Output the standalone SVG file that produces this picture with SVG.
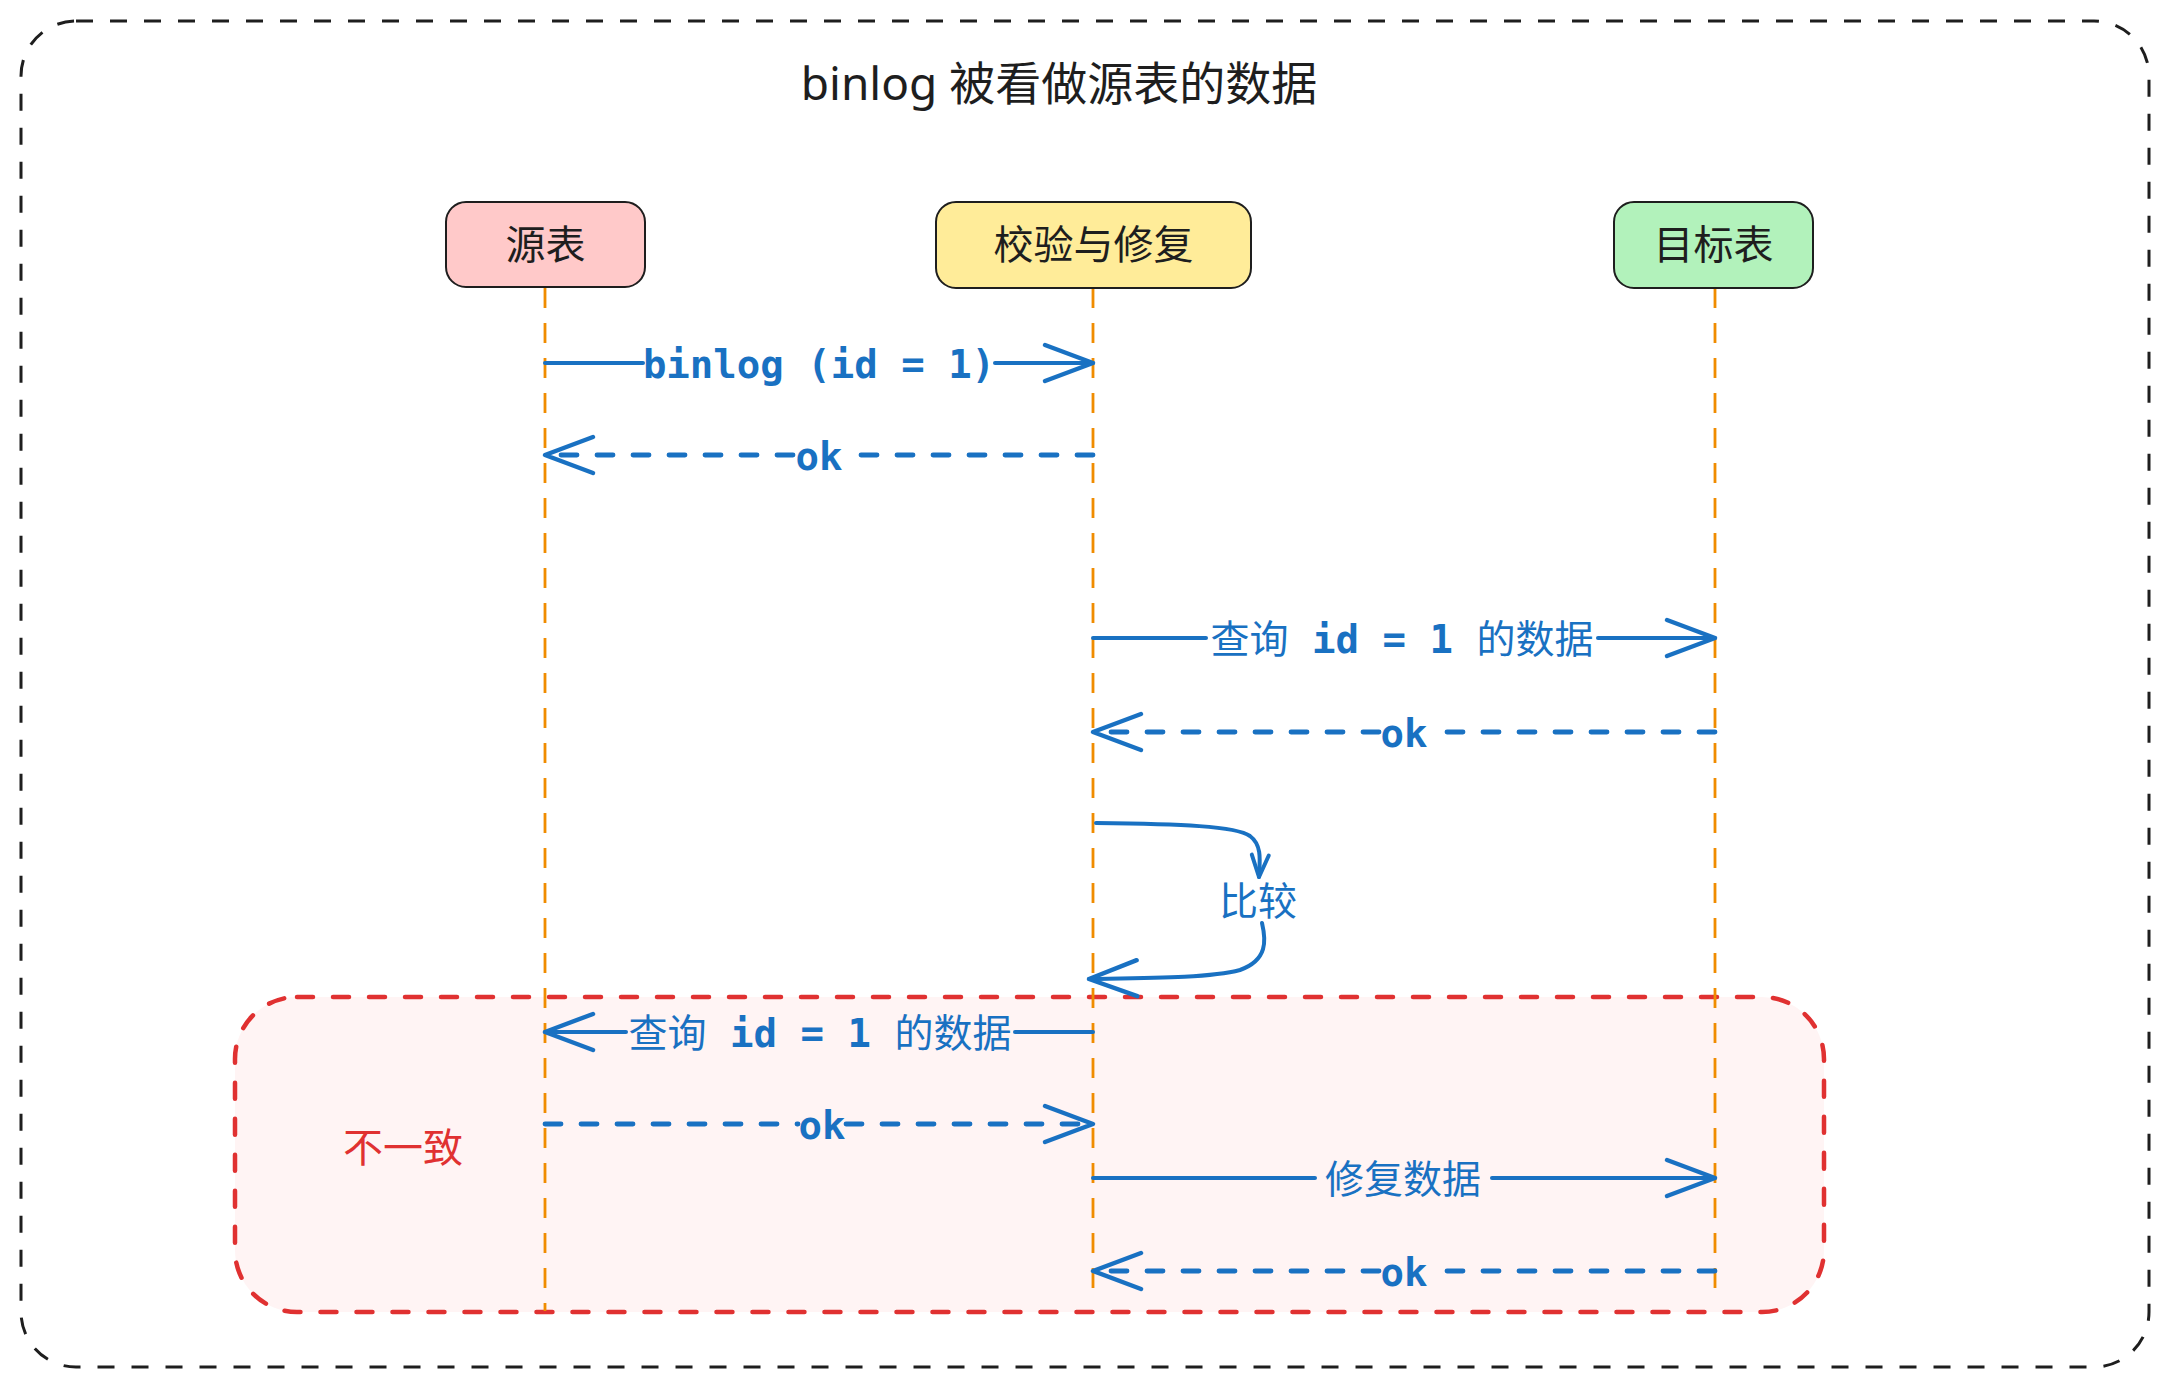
<svg xmlns="http://www.w3.org/2000/svg" width="2170" height="1385" viewBox="0 0 2170 1385">
<style>
.outer{fill:#ffffff;stroke:#1e1e1e;stroke-width:3;stroke-dasharray:17 17}
.title{font-family:"Noto Sans","Noto Sans CJK SC",sans-serif;font-size:46px;fill:#1e1e1e;text-anchor:middle}
.grp{fill:#fff4f4;stroke:#e03131;stroke-width:4.5;stroke-dasharray:16 20;stroke-linecap:round}
.grplbl{font-family:"Noto Sans CJK SC",sans-serif;font-size:40px;fill:#e03131;text-anchor:middle}
.life{stroke:#f08c00;stroke-width:2.8;stroke-dasharray:20 15;fill:none}
.box{stroke:#1e1e1e;stroke-width:2}
.nlbl{font-family:"Noto Sans CJK SC",sans-serif;font-size:40px;fill:#1e1e1e;text-anchor:middle}
.msg{stroke:#1971c2;stroke-width:4;fill:none;stroke-linecap:round}
.dash{stroke-dasharray:16 20;stroke-width:4.8}
.lbl{font-family:"DejaVu Sans Mono","Noto Sans CJK SC",monospace;font-size:39px;font-weight:bold;fill:#1971c2;text-anchor:middle}
.cj{font-family:"Noto Sans CJK SC",sans-serif;font-weight:normal}
</style>
<defs>
<marker id="ah" markerUnits="userSpaceOnUse" markerWidth="60" markerHeight="50" viewBox="-55 -25 60 50" refX="0" refY="0" orient="auto" overflow="visible">
<path d="M-48,-18 L0,0 L-48,18" fill="none" stroke="#1971c2" stroke-width="4.5" stroke-linecap="round" stroke-linejoin="round" stroke-dasharray="none"/>
</marker>
<marker id="ahs" markerUnits="userSpaceOnUse" markerWidth="30" markerHeight="24" viewBox="-28 -12 30 24" refX="0" refY="0" orient="auto" overflow="visible">
<path d="M-22,-8.5 L0,0 L-22,8.5" fill="none" stroke="#1971c2" stroke-width="4" stroke-linecap="round" stroke-linejoin="round" stroke-dasharray="none"/>
</marker>
</defs>

<rect class="outer" x="21" y="21" width="2128" height="1346" rx="55"/>
<text class="title" x="1059" y="100">binlog 被看做源表的数据</text>

<g id="group-inconsistent">
<rect class="grp" x="235" y="997" width="1589" height="315" rx="62"/>
<text class="grplbl" x="403" y="1162">不一致</text>
</g>

<g id="lifelines">
<line class="life" x1="545" y1="288" x2="545" y2="1311"/>
<line class="life" x1="1093" y1="288" x2="1093" y2="1290"/>
<line class="life" x1="1715" y1="288" x2="1715" y2="1290"/>
</g>

<g id="node-source">
<rect class="box" x="446" y="202" width="199" height="85" rx="20" fill="#ffc9c9"/>
<text class="nlbl" x="545.5" y="259">源表</text>
</g>
<g id="node-verify">
<rect class="box" x="936" y="202" width="315" height="86" rx="20" fill="#ffec99"/>
<text class="nlbl" x="1093.5" y="259">校验与修复</text>
</g>
<g id="node-target">
<rect class="box" x="1614" y="202" width="199" height="86" rx="20" fill="#b2f2bb"/>
<text class="nlbl" x="1713.5" y="259">目标表</text>
</g>

<g id="connectors">
<path class="msg" d="M545,363 L643,363"/>
<path class="msg" d="M995,363 L1093,363" marker-end="url(#ah)"/>
<text class="lbl" x="819" y="378">binlog (id = 1)</text>

<path class="msg dash" d="M1093,455 L845,455"/>
<path class="msg dash" d="M793,455 L545,455" marker-end="url(#ah)"/>
<text class="lbl" x="819" y="470">ok</text>

<path class="msg" d="M1093,638 L1206,638"/>
<path class="msg" d="M1598,638 L1715,638" marker-end="url(#ah)"/>
<text class="lbl" x="1402" y="653"><tspan class="cj">查询</tspan> id = 1 <tspan class="cj">的数据</tspan></text>

<path class="msg dash" d="M1715,732 L1428,732"/>
<path class="msg dash" d="M1379,732 L1093,732" marker-end="url(#ah)"/>
<text class="lbl" x="1404" y="747">ok</text>

<path class="msg" d="M1096,823 C1180,824 1236,826 1250,836 C1262,845 1260,860 1259,877" marker-end="url(#ahs)"/>
<path class="msg" d="M1262,923 C1266,940 1268,960 1240,970 C1210,978 1150,978 1089,979" marker-end="url(#ah)"/>
<text class="lbl" x="1258" y="915"><tspan class="cj">比较</tspan></text>

<path class="msg" d="M1093,1032 L1015,1032"/>
<path class="msg" d="M626,1032 L545,1032" marker-end="url(#ah)"/>
<text class="lbl" x="820" y="1047"><tspan class="cj">查询</tspan> id = 1 <tspan class="cj">的数据</tspan></text>

<path class="msg dash" d="M545,1124 L798,1124"/>
<path class="msg dash" d="M846,1124 L1093,1124" marker-end="url(#ah)"/>
<text class="lbl" x="822" y="1139">ok</text>

<path class="msg" d="M1093,1178 L1315,1178"/>
<path class="msg" d="M1492,1178 L1715,1178" marker-end="url(#ah)"/>
<text class="lbl" x="1403" y="1193"><tspan class="cj">修复数据</tspan></text>

<path class="msg dash" d="M1715,1271 L1428,1271"/>
<path class="msg dash" d="M1379,1271 L1093,1271" marker-end="url(#ah)"/>
<text class="lbl" x="1404" y="1286">ok</text>
</g>
</svg>
